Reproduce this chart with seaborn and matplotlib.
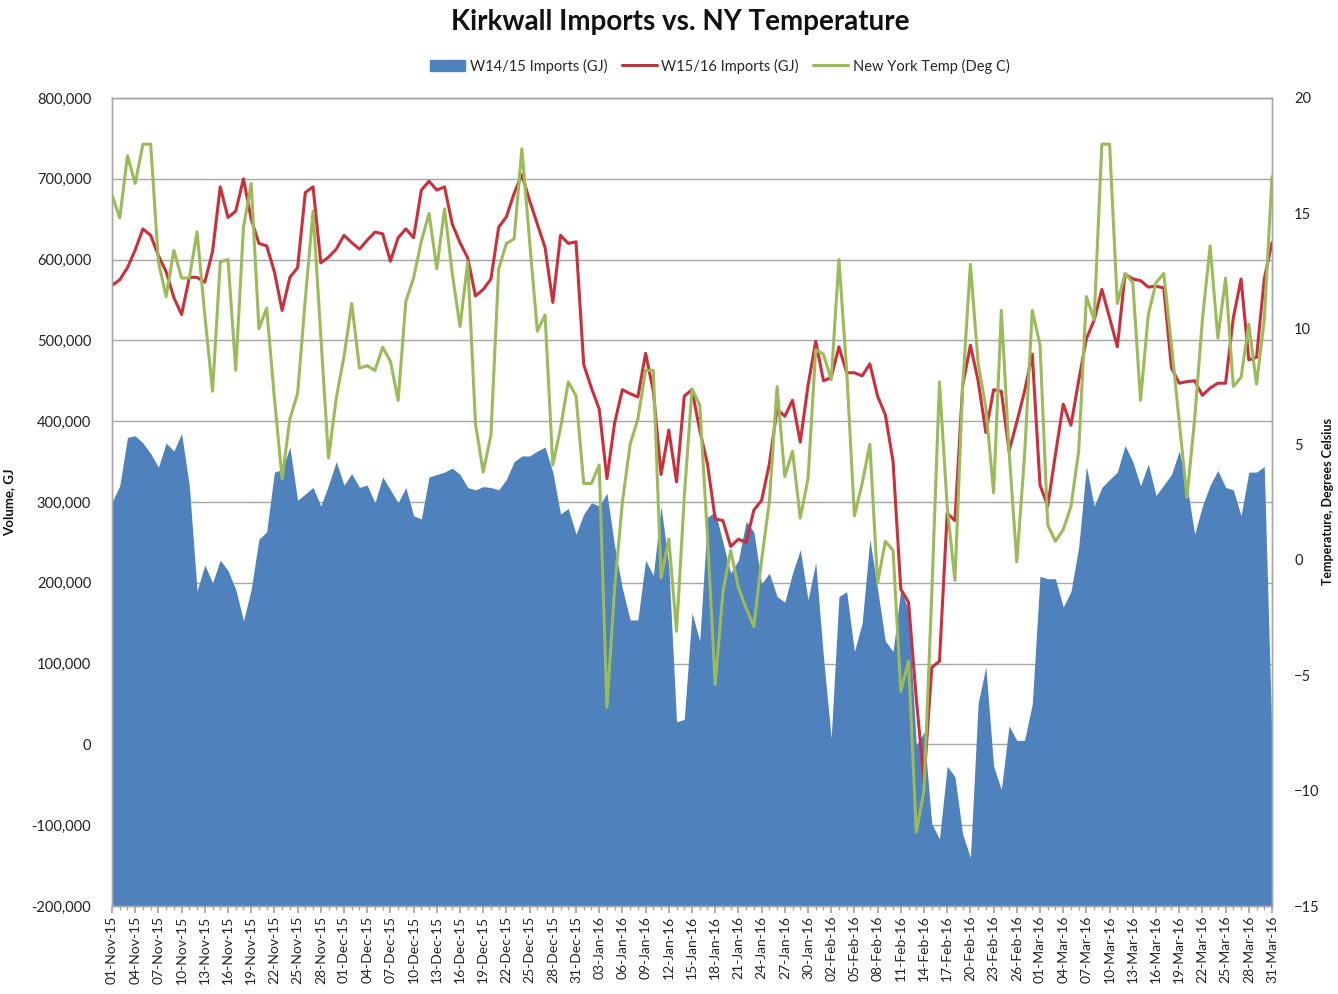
import numpy as np
import pandas as pd
import matplotlib
matplotlib.use("Agg")
import matplotlib.pyplot as plt
import seaborn as sns
from matplotlib.patches import Patch
from matplotlib.lines import Line2D
from matplotlib.ticker import FuncFormatter, MultipleLocator

# ---------------- data ----------------
imports_w1415 = [300000, 320000, 380000, 382000, 373000, 360000, 343000, 373000, 363000, 385000,
                 320000, 190000, 222000, 200000, 228000, 215000, 192000, 153000, 192000, 254000,
                 263000, 337000, 340000, 368000, 302000, 310000, 318000, 295000, 321000, 350000,
                 321000, 335000, 318000, 321000, 299000, 331000, 315000, 299000, 318000, 283000,
                 279000, 331000, 334000, 337000, 342000, 334000, 318000, 315000, 319000, 318000,
                 315000, 328000, 350000, 357000, 357000, 363000, 368000, 337000, 285000, 292000,
                 260000, 285000, 299000, 295000, 311000, 245000, 193000, 154000, 154000, 228000,
                 209000, 295000, 221000, 28000, 31000, 163000, 128000, 281000, 288000, 250000,
                 212000, 228000, 276000, 263000, 199000, 212000, 183000, 176000, 212000, 241000,
                 179000, 225000, 108000, 8000, 183000, 189000, 115000, 150000, 254000, 192000,
                 128000, 115000, 192000, 166000, -1000, 15000, -98000, -117000, -27000, -40000,
                 -111000, -140000, 51000, 96000, -27000, -56000, 23000, 5000, 5000, 50000,
                 208000, 205000, 205000, 170000, 189000, 244000, 344000, 295000, 318000, 328000,
                 337000, 370000, 350000, 320000, 347000, 308000, 321000, 334000, 363000, 321000,
                 260000, 295000, 321000, 339000, 318000, 315000, 283000, 337000, 337000, 344000,
                 5000]

imports_w1516 = [568000, 575000, 590000, 612000, 638000, 630000, 605000, 585000, 553000, 532000,
                 578000, 578000, 572000, 610000, 690000, 652000, 660000, 700000, 650000, 620000,
                 617000, 585000, 537000, 578000, 590000, 683000, 690000, 596000, 603000, 613000,
                 630000, 621000, 613000, 624000, 634000, 632000, 598000, 627000, 638000, 627000,
                 686000, 697000, 686000, 690000, 644000, 621000, 602000, 555000, 563000, 576000,
                 640000, 653000, 682000, 705000, 673000, 644000, 615000, 547000, 630000, 620000,
                 622000, 470000, 441000, 415000, 329000, 398000, 439000, 434000, 430000, 484000,
                 437000, 334000, 389000, 325000, 431000, 439000, 389000, 347000, 279000, 277000,
                 245000, 254000, 250000, 290000, 302000, 347000, 415000, 406000, 426000, 374000,
                 444000, 499000, 450000, 454000, 492000, 460000, 460000, 456000, 471000, 431000,
                 408000, 350000, 192000, 176000, 57000, -46000, 95000, 103000, 286000, 277000,
                 444000, 494000, 450000, 386000, 439000, 437000, 363000, 399000, 437000, 483000,
                 321000, 295000, 359000, 421000, 395000, 450000, 502000, 525000, 563000, 528000,
                 492000, 582000, 576000, 574000, 566000, 567000, 565000, 466000, 447000, 449000,
                 450000, 432000, 441000, 447000, 447000, 528000, 576000, 476000, 479000, 576000,
                 621000]

ny_temp = [15.8, 14.8, 17.5, 16.3, 18.0, 18.0, 12.9, 11.4, 13.4, 12.2,
           12.2, 14.2, 10.6, 7.3, 12.9, 13.0, 8.2, 14.4, 16.3, 10.0,
           10.9, 7.0, 3.5, 6.1, 7.2, 11.3, 15.1, 9.7, 4.4, 7.0,
           8.8, 11.1, 8.3, 8.4, 8.2, 9.2, 8.6, 6.9, 11.2, 12.2,
           13.8, 15.0, 12.6, 15.2, 12.4, 10.1, 12.9, 5.9, 3.8, 5.4,
           12.6, 13.7, 13.9, 17.8, 13.8, 9.9, 10.6, 4.1, 5.7, 7.7,
           7.1, 3.3, 3.3, 4.1, -6.4, -1.2, 2.5, 5.0, 6.1, 8.2,
           8.2, -0.8, 0.9, -3.1, 2.7, 7.4, 6.7, 1.0, -5.4, -1.4,
           0.4, -1.2, -2.1, -2.9, 0.0, 2.5, 7.5, 3.6, 4.7, 1.8,
           3.5, 9.1, 8.9, 7.8, 13.0, 8.2, 1.9, 3.3, 5.0, -1.0,
           0.8, 0.4, -5.7, -4.4, -11.8, -10.0, -1.5, 7.7, 2.3, -0.9,
           7.5, 12.8, 8.5, 6.6, 2.9, 10.8, 4.7, -0.1, 4.5, 10.8,
           9.3, 1.5, 0.8, 1.3, 2.3, 4.7, 11.4, 10.4, 18.0, 18.0,
           11.1, 12.4, 12.0, 6.9, 10.6, 12.0, 12.4, 9.3, 6.0, 2.7,
           6.1, 10.4, 13.6, 9.6, 12.2, 7.5, 7.9, 10.2, 7.6, 10.4,
           16.6]

# category dates (the chart's axis has no 29-Feb)
dates = pd.date_range("2015-11-01", "2016-03-31")
dates = dates[~((dates.month == 2) & (dates.day == 29))]
date_labels = [d.strftime("%d-%b-%y") for d in dates]

series_labels = ["W14/15 Imports (GJ)", "W15/16 Imports (GJ)", "New York Temp (Deg C)"]

BLUE = "#4F81BD"
RED = "#C9303C"
GREEN = "#9BBB59"
GRID = "#A6A6A6"

df = pd.DataFrame({
    "idx": np.arange(len(date_labels)),
    "w1415": imports_w1415,
    "w1516": imports_w1516,
    "temp": ny_temp,
})

sns.set_theme(style="white")
plt.rcParams["font.family"] = ["Lato", "DejaVu Sans"]

W, H = 1338, 994
fig = plt.figure(figsize=(W / 100, H / 100), dpi=100)
L, R, T, B = 112, 1272, 98, 906
ax = fig.add_axes([L / W, 1 - B / H, (R - L) / W, (B - T) / H])

ymin = -200000
ax.fill_between(df["idx"], df["w1415"], ymin, color=BLUE, lw=0, zorder=2)
sns.lineplot(data=df, x="idx", y="w1516", ax=ax, color=RED, lw=2.2, zorder=3)

ax.set_xlim(0, len(date_labels) - 1)
ax.set_ylim(ymin, 800000)
ax.yaxis.set_major_locator(MultipleLocator(100000))
ax.yaxis.set_major_formatter(FuncFormatter(lambda v, p: f"{v:,.0f}"))
ax.set_axisbelow(True)
ax.yaxis.grid(True, color=GRID, lw=1.0)
ax.xaxis.grid(False)

ax.set_xticks(np.arange(0, len(date_labels), 3))
ax.set_xticklabels(date_labels[::3], rotation=90, fontsize=10, color="#222222")
ax.set_xticks(np.arange(len(date_labels)), minor=True)
ax.tick_params(axis="x", which="major", direction="out", length=5, color=GRID, bottom=True, pad=2)
ax.tick_params(axis="x", which="minor", direction="out", length=3, color=GRID, bottom=True)
ax.tick_params(axis="y", labelsize=10.5, labelcolor="#222222", length=0, pad=15)
ax.set_xlabel("")
ax.set_ylabel("Volume, GJ", fontsize=9.5, fontweight="bold", color="#111111")
ax.yaxis.set_label_coords((15 - L) / (R - L), 0.5)

for s in ax.spines.values():
    s.set_color(GRID)
    s.set_linewidth(1.0)

ax2 = ax.twinx()
sns.lineplot(data=df, x="idx", y="temp", ax=ax2, color=GREEN, lw=2.2, zorder=4)
ax2.set_ylim(-15, 20)
ax2.yaxis.set_major_locator(MultipleLocator(5))
ax2.tick_params(axis="y", labelsize=10.5, labelcolor="#222222", length=0, pad=16)
ax2.set_ylabel("Temperature, Degrees Celsius", fontsize=9, fontweight="bold", color="#111111")
ax2.yaxis.set_label_coords((1322 - L) / (R - L), 0.5)
ax2.grid(False)
for s in ax2.spines.values():
    s.set_color(GRID)
    s.set_linewidth(1.0)
ax2.set_xlim(0, len(date_labels) - 1)

fig.text(680 / W, 1 - 22 / H, "Kirkwall Imports vs. NY Temperature",
         ha="center", va="center", fontsize=20, fontweight="bold", color="#111111")

handles = [
    Patch(facecolor=BLUE, edgecolor=BLUE),
    Line2D([0], [0], color=RED, lw=2.2),
    Line2D([0], [0], color=GREEN, lw=2.2),
]
fig.legend(handles, series_labels, loc="center", bbox_to_anchor=(720 / W, 1 - 66 / H),
           ncol=3, frameon=False, fontsize=10.5, handlelength=2.4, handleheight=0.7,
           columnspacing=1.0, handletextpad=0.3)

fig.savefig("out.png", dpi=100, facecolor="white")
